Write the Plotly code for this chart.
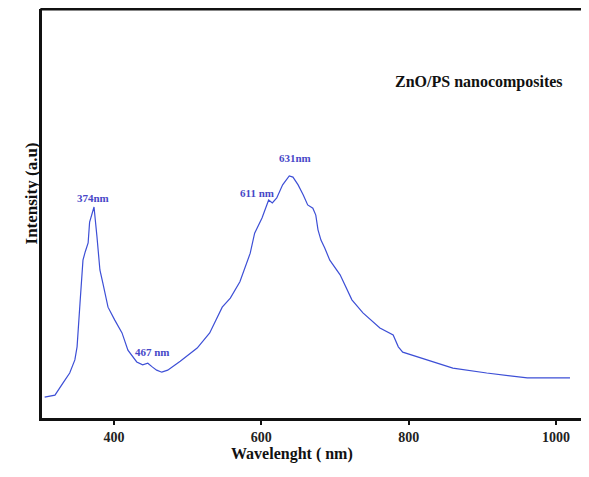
import plotly.graph_objects as go

# Wavelength (nm) and intensity (a.u., 0-100 scale)
wavelength = [306, 320, 331, 340, 347, 350, 354, 358, 361, 365, 367, 373, 377, 381, 385,
              392, 401, 411, 419, 431, 439, 446, 452, 458, 465, 473, 490, 513, 530, 547,
              558, 571, 585, 591, 601, 608, 610, 615, 621, 629, 638, 643, 650, 657, 663,
              670, 674, 677, 681, 686, 693, 707, 723, 738, 761, 779, 786, 792, 825, 860,
              906, 961, 1019]
intensity = [5.1, 5.6, 8.6, 11.0, 14.2, 17.4, 28.1, 38.6, 40.6, 42.8, 47.9, 51.6, 44.3, 36.2, 33.0,
             27.1, 24.0, 20.8, 16.6, 13.7, 13.0, 13.4, 12.5, 11.7, 11.2, 11.7, 13.9, 17.1, 20.8, 27.1,
             29.3, 33.3, 40.3, 45.2, 48.9, 52.1, 53.3, 52.6, 53.8, 57.0, 59.2, 58.9, 57.0, 54.5, 52.1,
             51.3, 49.6, 46.0, 43.5, 41.6, 38.6, 35.0, 28.9, 25.7, 22.0, 20.3, 17.4, 16.1, 14.2, 12.2,
             11.0, 9.8, 9.8]

x_ticks = [400, 600, 800, 1000]

peak_labels = ["374nm", "467 nm", "611 nm", "631nm"]
peak_x = [371.5, 453, 594, 646]
peak_y = [53.8, 16.1, 55.0, 63.6]

serif = "Liberation Serif"
blue_line = "#3d4fd6"
blue_text = "#4848c8"

fig = go.Figure()
fig.add_trace(go.Scatter(x=wavelength, y=intensity, mode="lines",
                         line=dict(color=blue_line, width=1.2), showlegend=False,
                         hoverinfo="skip"))

annotations = []
for t, xv, yv in zip(peak_labels, peak_x, peak_y):
    annotations.append(dict(x=xv, y=yv, xref="x", yref="y", text=t, showarrow=False,
                            font=dict(family=serif, size=11, color=blue_text, weight="bold")))

annotations.append(dict(x=895, y=82.2, xref="x", yref="y", text="ZnO/PS nanocomposites",
                        showarrow=False,
                        font=dict(family=serif, size=16, color="#111", weight="bold")))
annotations.append(dict(x=-0.04, y=0.548, xref="paper", yref="paper", text="Intensity (a.u)",
                        textangle=-90, showarrow=False,
                        font=dict(family=serif, size=17, color="#111", weight="bold")))
annotations.append(dict(x=0.457, y=-0.115, xref="paper", yref="paper", text="Wavelenght ( nm)",
                        showarrow=False,
                        font=dict(family=serif, size=16, color="#111", weight="bold")))

fig.update_layout(
    width=581, height=461,
    margin=dict(l=34, r=0, t=1, b=51),
    paper_bgcolor="white", plot_bgcolor="white",
    annotations=annotations,
    shapes=[dict(type="line", xref="paper", yref="paper", x0=-0.003, x1=1.0, y0=1, y1=1,
                 line=dict(color="#111", width=3))],
    xaxis=dict(range=[302.4, 1044.8], tickvals=x_ticks, ticktext=[str(v) for v in x_ticks],
               showgrid=False, zeroline=False, showline=True, linecolor="#111", linewidth=3,
               mirror=False, ticks="outside", ticklen=4, tickwidth=2, tickcolor="#111",
               tickfont=dict(family=serif, size=14, color="#222", weight="bold")),
    yaxis=dict(range=[0, 100], showticklabels=False, showgrid=False, zeroline=False,
               showline=True, linecolor="#111", linewidth=3, ticks=""),
)

fig.write_html("out.html")
